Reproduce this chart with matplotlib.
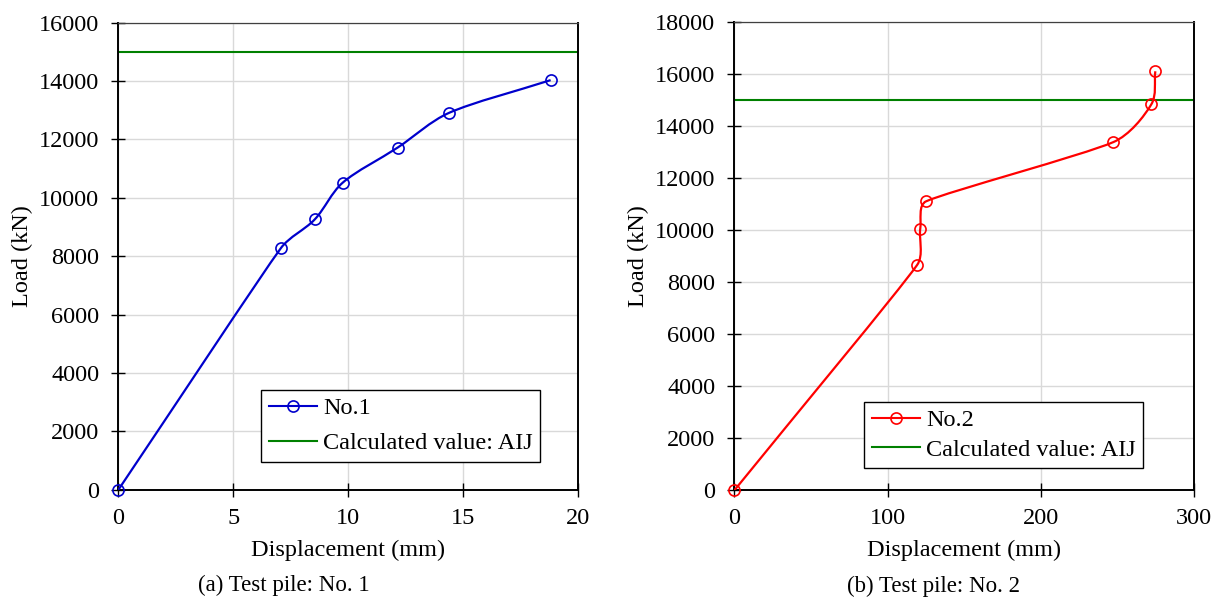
import matplotlib
matplotlib.use("Agg")
import matplotlib.pyplot as plt
import numpy as np
from matplotlib.path import Path
from matplotlib.patches import PathPatch
from matplotlib.lines import Line2D

# ---- data ----
disp1 = [0.0, 7.07, 8.55, 9.77, 12.16, 14.40, 18.82]
load1 = [0, 8270, 9260, 10520, 11720, 12910, 14030]
disp2 = [0.0, 119.2, 121.3, 125.2, 247.2, 272.0, 274.6]
load2 = [0, 8650, 10050, 11100, 13370, 14820, 16090]
aij_value = 15000
label1 = "No.1"
label2 = "No.2"
label_aij = "Calculated value: AIJ"
caption1 = "(a) Test pile: No. 1"
caption2 = "(b) Test pile: No. 2"
xlabel = "Displacement (mm)"
ylabel = "Load (kN)"

plt.rcParams['font.family'] = ['Liberation Serif', 'DejaVu Serif']
FS = 17.5


def smooth_path(ax, xs, ys, k=0.33):
    """Smooth Bezier path through the points, built in display-proportional space
    (so tangents behave like a spreadsheet's smoothed line) and returned in data units."""
    P = np.column_stack([xs, ys]).astype(float)
    x0, x1 = ax.get_xlim()
    y0, y1 = ax.get_ylim()
    bb = ax.get_position()
    fw, fh = ax.figure.get_size_inches()
    sx = bb.width * fw / (x1 - x0)
    sy = bb.height * fh / (y1 - y0)
    S = P * np.array([sx, sy])
    n = len(S)
    seg = [np.linalg.norm(S[i + 1] - S[i]) for i in range(n - 1)]
    dirs = []
    for i in range(n):
        a = S[i - 1] if i > 0 else S[i]
        b = S[i + 1] if i < n - 1 else S[i]
        d = b - a
        dirs.append(d / np.linalg.norm(d))

    def arm(i, j):
        # arm at point i for segment j: geometric mean of segment j and the other neighbour
        L = seg[j]
        other = [seg[m] for m in (i - 1, i) if 0 <= m < n - 1 and m != j]
        if other:
            return k * min(L, np.sqrt(L * other[0]))
        return k * L

    verts = [S[0]]
    codes = [Path.MOVETO]
    for i in range(n - 1):
        c1 = S[i] + dirs[i] * arm(i, i)
        c2 = S[i + 1] - dirs[i + 1] * arm(i + 1, i)
        verts += [c1, c2, S[i + 1]]
        codes += [Path.CURVE4] * 3
    V = np.array(verts) / np.array([sx, sy])
    return Path(V, codes)


fig = plt.figure(figsize=(12.24, 6.01), dpi=100)
ax1 = fig.add_axes([0.0967, 0.185, 0.3753, 0.7774])
ax2 = fig.add_axes([0.5999, 0.184, 0.3758, 0.7802])


def style(ax, xmax, xstep, ymax):
    ax.set_xlim(0, xmax)
    ax.set_ylim(0, ymax)
    ax.set_xticks(np.arange(0, xmax + 0.1, xstep))
    ax.set_yticks(np.arange(0, ymax + 1, 2000))
    ax.grid(True, color='#D9D9D9', lw=1.0)
    ax.set_axisbelow(True)
    ax.tick_params(direction='inout', length=9.5, width=1.0, labelsize=FS)
    ax.tick_params(axis='x', pad=8)
    ax.tick_params(axis='y', pad=9)
    for s in ['left', 'bottom', 'right']:
        ax.spines[s].set_linewidth(1.4)
        ax.spines[s].set_color('black')
    ax.spines['top'].set_linewidth(0.9)
    ax.spines['top'].set_color('#404040')
    ax.set_xlabel(xlabel, fontsize=FS, labelpad=8)
    ax.set_ylabel(ylabel, fontsize=FS, labelpad=4)


style(ax1, 20, 5, 16000)
style(ax2, 300, 100, 18000)


def draw(ax, xs, ys, color, lab, anchor, ls):
    ax.axhline(aij_value, color='#008000', lw=1.5, zorder=2)
    ax.add_patch(PathPatch(smooth_path(ax, xs, ys), fill=False, edgecolor=color, lw=1.6, zorder=3))
    ax.plot(xs, ys, linestyle='none', marker='o', ms=8, mfc='none', mec=color, mew=1.2,
            zorder=4, clip_on=False)
    handles = [Line2D([], [], color=color, lw=1.5, marker='o', ms=8, mfc='none', mec=color, mew=1.2),
               Line2D([], [], color='#008000', lw=1.5)]
    leg = ax.legend(handles, [lab, label_aij], loc='lower left', bbox_to_anchor=anchor,
                    borderaxespad=0, fontsize=FS, fancybox=False, framealpha=1,
                    edgecolor='black', handlelength=2.0, handletextpad=0.25,
                    labelspacing=ls, borderpad=0.3)
    leg.get_frame().set_linewidth(1.0)


draw(ax1, disp1, load1, '#0000CC', label1, (0.311, 0.060), 0.55)
draw(ax2, disp2, load2, '#FF0000', label2, (0.283, 0.048), 0.3)

fig.text(0.232, 0.026, caption1, ha='center', va='center', fontsize=16.5)
fig.text(0.763, 0.024, caption2, ha='center', va='center', fontsize=16.5)

fig.savefig("out.png", dpi=100)
